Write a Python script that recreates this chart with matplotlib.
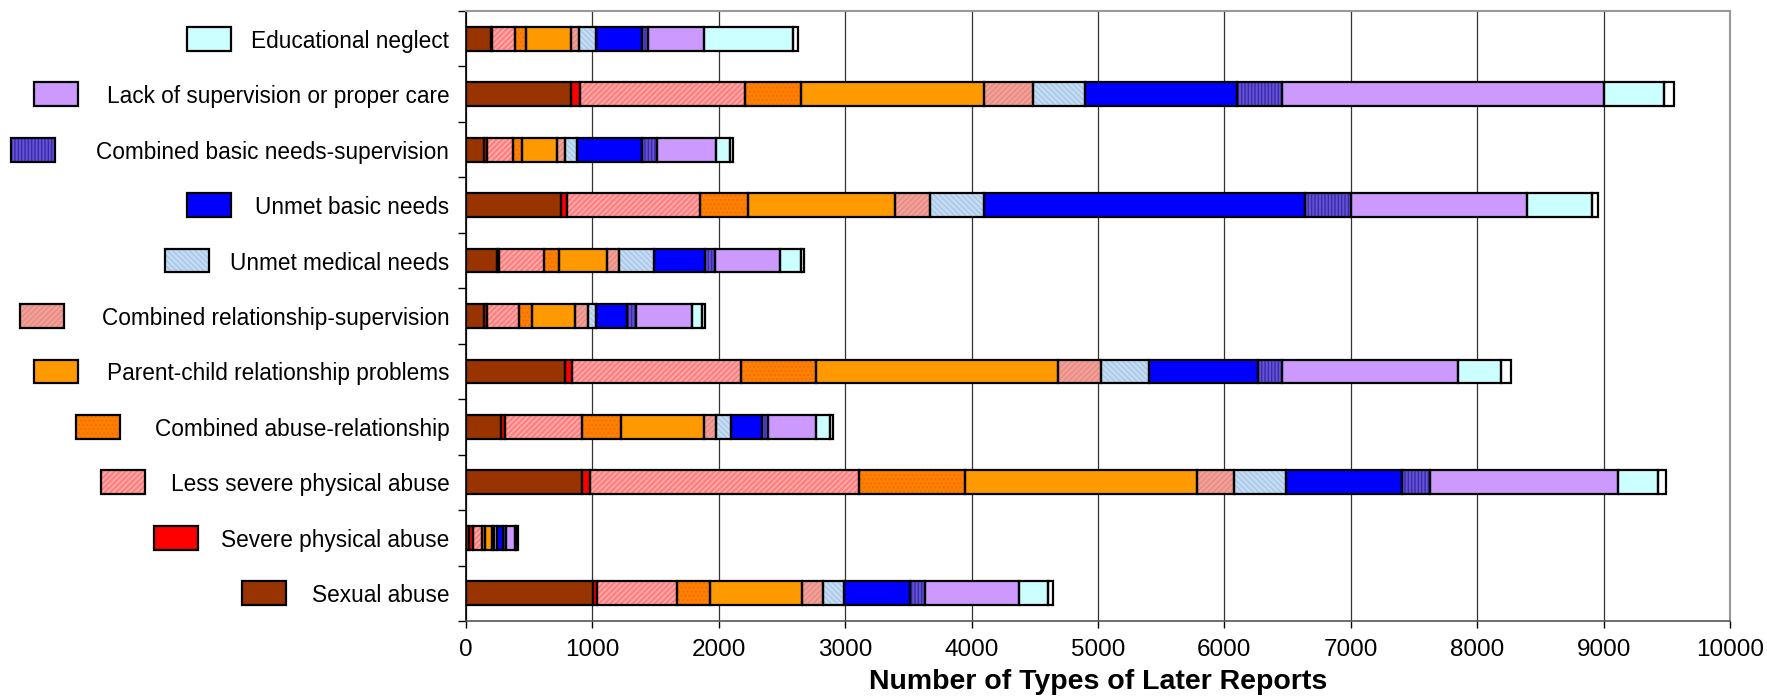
import matplotlib
matplotlib.use('Agg')
import matplotlib.pyplot as plt
import matplotlib.transforms as mtransforms
from matplotlib.patches import Rectangle
import numpy as np

plt.rcParams['font.family'] = ['Liberation Sans', 'DejaVu Sans']

# categories of the first report, bottom to top
categories = ['Sexual abuse', 'Severe physical abuse', 'Less severe physical abuse',
              'Combined abuse-relationship', 'Parent-child relationship problems',
              'Combined relationship-supervision', 'Unmet medical needs',
              'Unmet basic needs', 'Combined basic needs-supervision',
              'Lack of supervision or proper care', 'Educational neglect']

# later report types (stack order, left to right), one value per category
sexual = [1008, 26, 916, 274, 784, 145, 243, 752, 145, 831, 195]
severe = [32, 32, 66, 35, 52, 19, 21, 50, 19, 71, 8]
less_severe = [628, 66, 2131, 607, 1341, 258, 356, 1050, 205, 1306, 185]
comb_abuse_rel = [266, 26, 837, 311, 593, 98, 116, 378, 72, 444, 84]
parent_child = [723, 53, 1834, 657, 1916, 343, 377, 1166, 277, 1443, 359]
comb_rel_sup = [164, 20, 290, 95, 340, 100, 101, 277, 66, 390, 66]
unmet_medical = [166, 25, 415, 119, 380, 66, 277, 422, 97, 415, 132]
unmet_basic = [522, 48, 915, 242, 856, 248, 396, 2544, 510, 1198, 364]
comb_basic_sup = [119, 18, 219, 53, 197, 69, 79, 359, 118, 361, 45]
lack_sup = [744, 74, 1493, 377, 1391, 440, 522, 1397, 470, 2541, 443]
educational = [232, 10, 313, 111, 337, 79, 164, 510, 113, 476, 705]
other = [37, 11, 66, 21, 81, 22, 21, 48, 24, 82, 37]

series = [sexual, severe, less_severe, comb_abuse_rel, parent_child, comb_rel_sup,
          unmet_medical, unmet_basic, comb_basic_sup, lack_sup, educational, other]

# (face colour, hatch, hatch colour) per series
styles = [
    ('#993300', None, None),
    ('#ff0000', None, None),
    ('#ff8080', '//////', '#ffb3b3'),
    ('#ff8000', '....', '#f07000'),
    ('#ff9900', None, None),
    ('#f5a08a', '//////', '#e08a9a'),
    ('#c4dcf2', '\\\\\\\\\\\\', '#a9c6ea'),
    ('#0000ff', None, None),
    ('#6452d6', '|||||', '#3a2aa8'),
    ('#cc99ff', None, None),
    ('#ccffff', None, None),
    ('#ffffff', None, None),
]

# x position (pixels) of the colour box left of each category label
box_left = [242, 154, 101, 76, 34, 20, 165, 187, 11, 34, 187]

W, H = 1767, 696
fig = plt.figure(figsize=(W / 100, H / 100), dpi=100)
ax = fig.add_axes([466 / W, 75 / H, 1264 / W, 610 / H])

y = np.arange(len(categories))
bar_h = 0.43
left = np.zeros(len(categories))
for vals, (fc, hatch, hc) in zip(series, styles):
    vals = np.array(vals, dtype=float)
    if hatch:
        ax.barh(y, vals, left=left, height=bar_h, color=fc, hatch=hatch,
                edgecolor=hc, linewidth=0, zorder=3)
    else:
        ax.barh(y, vals, left=left, height=bar_h, color=fc, linewidth=0, zorder=3)
    ax.barh(y, vals, left=left, height=bar_h, facecolor='none',
            edgecolor='black', linewidth=1.6, zorder=4)
    left += vals

# colour boxes next to the category labels
trans = mtransforms.blended_transform_factory(fig.transFigure, ax.transData)
for i, (fc, hatch, hc) in enumerate(styles[:len(categories)]):
    x0 = box_left[i] / W
    if hatch:
        ax.add_patch(Rectangle((x0, i - bar_h / 2), 44 / W, bar_h, transform=trans,
                               facecolor=fc, hatch=hatch, edgecolor=hc, linewidth=0,
                               clip_on=False))
    else:
        ax.add_patch(Rectangle((x0, i - bar_h / 2), 44 / W, bar_h, transform=trans,
                               facecolor=fc, linewidth=0, clip_on=False))
    ax.add_patch(Rectangle((x0, i - bar_h / 2), 44 / W, bar_h, transform=trans,
                           facecolor='none', edgecolor='black', linewidth=1.6,
                           clip_on=False))

ax.set_xlim(0, 10000)
ax.set_ylim(-0.5, len(categories) - 0.5)
ax.set_xticks(np.arange(0, 10001, 1000))
ax.tick_params(axis='x', labelsize=17.5, length=5, width=1, direction='out', pad=8)

ax.set_yticks(np.arange(-0.5, len(categories), 1.0))
ax.set_yticklabels([])
ax.tick_params(axis='y', which='major', length=6, width=1, direction='out')
ax.set_yticks(y, minor=True)
ax.set_yticklabels(categories, minor=True, fontsize=16.3)
ax.tick_params(axis='y', which='minor', length=0, pad=12)

ax.xaxis.grid(True, color='#333333', linewidth=0.9, zorder=0)
ax.set_axisbelow(True)
for side in ['top', 'right']:
    ax.spines[side].set_color('#999999')
    ax.spines[side].set_linewidth(1.5)
ax.spines['left'].set_linewidth(1.2)
ax.spines['bottom'].set_color('#555555')
ax.spines['bottom'].set_linewidth(1.2)

ax.set_xlabel('Number of Types of Later Reports', fontsize=20.5, fontweight='bold',
              labelpad=6)

fig.savefig('out.png', dpi=100)
